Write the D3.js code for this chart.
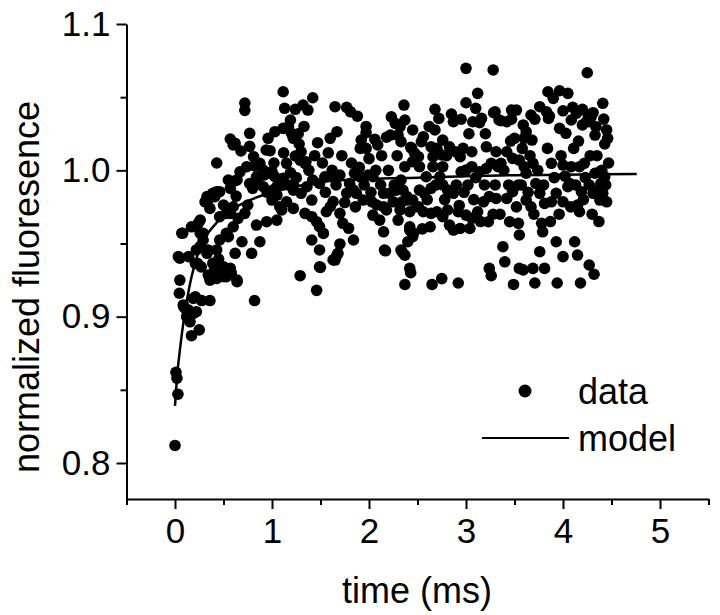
<!DOCTYPE html>
<meta charset="utf-8">
<html>
    <head>
        <style>
            body { margin: 0; background: white; }
            text { font-family: "Liberation Sans", Arial, sans-serif; fill: black; }
        </style>
        <script src="https://d3js.org/d3.v7.min.js"></script>
    </head>
    <body>
        <script>

            // Data: [time (ms), normalized fluorescence]
            var dataPoints = [
                [0.00,0.812],[0.01,0.862],[0.02,0.858],[0.03,0.847],
                [0.045,0.916],[0.05,0.925],[0.05,0.940],[0.035,0.941],[0.07,0.957],[0.08,0.957],[0.09,0.907],[0.085,0.908],
                [0.10,0.906],[0.12,0.9045],[0.12,0.900],[0.14,0.9045],[0.155,0.8965],[0.17,0.887],[0.19,0.9023],[0.19,0.9125],
                [0.21,0.9136],[0.22,0.9034],[0.25,0.891],[0.275,0.911],[0.36,0.911],
                [0.14,0.941],[0.17,0.9614],[0.21,0.9364],[0.22,0.9456],[0.23,0.9364],[0.24,0.9638],[0.26,0.966],[0.26,0.948],
                [0.26,0.957],[0.27,0.934],[0.29,0.957],[0.29,0.9524],[0.31,0.9785],[0.33,0.982],[0.33,0.9433],[0.34,0.9456],
                [0.34,0.9797],[0.343,0.9284],[0.36,0.925],[0.36,0.974],[0.39,0.9843],[0.39,0.9364],[0.41,0.933],[0.41,0.982],
                [0.43,1.005],[0.43,0.9854],[0.43,0.9262],[0.43,0.9456],[0.43,0.934],[0.45,0.9394],[0.46,0.9524],[0.46,0.9854],
                [0.46,0.9683],[0.46,0.9296],[0.50,0.9763],[0.50,0.9341],[0.50,0.9291],[0.50,0.9273],
                [0.53,0.9273],[0.53,0.957],[0.53,0.9706],[0.55,0.9547],[0.55,0.9934],[0.57,0.933],[0.57,0.9877],[0.57,0.9706],
                [0.57,1.0214],[0.57,0.9318],[0.58,0.930],[0.60,1.0173],[0.60,0.9751],[0.60,0.9614],[0.62,0.9929],[0.62,1.0184],
                [0.62,0.9433],[0.63,0.9824],[0.64,0.9239],[0.64,0.9934],[0.64,0.925],[0.65,0.9672],[0.67,0.999],[0.68,1.0132],
                [0.69,0.9512],[0.72,0.9706],[0.72,1.046],[0.72,1.041],[0.74,1.0025],[0.75,0.9763],[0.77,1.0164],[0.77,1.0253],
                [0.77,0.991],[0.79,0.9433],[0.80,0.9877],[0.81,1.0093],[0.82,1.003],[0.82,0.911],[0.84,0.9626],[0.84,0.9956],
                [0.86,0.991],[0.875,0.9512],[0.875,1.0048],
                [0.91,0.9888],[0.91,1.0002],[0.92,0.9968],[0.94,1.0139],[0.945,0.9649],[0.96,1.0219],[0.96,0.998],[0.98,1.0134],
                [1.00,0.9991],[1.00,0.9797],[1.01,0.9865],[1.03,1.0264],[1.03,0.9956],[1.05,0.966],[1.05,0.9888],[1.05,0.983],
                [1.08,0.991],[1.08,0.9751],[1.10,0.9729],[1.115,1.0537],[1.115,1.0287],[1.115,0.9945],[1.13,1.0424],[1.15,1.0048],
                [1.15,0.9785],[1.17,1.0298],[1.17,0.99],[1.19,1.0344],[1.19,0.9984],[1.20,1.0253],[1.22,1.0219],[1.22,0.99],
                [1.22,0.974],[1.22,0.9865],[1.24,1.0417],[1.24,1.0098],[1.28,1.018],[1.29,1.007],[1.29,0.928],[1.30,1.0127],
                [1.30,0.9843],[1.32,1.0446],[1.34,1.0048],[1.34,0.9706],[1.35,1.0059],[1.36,0.9888],[1.37,1.0412],[1.41,0.9683],
                [1.41,0.9524],[1.41,0.9797],[1.42,1.0496],[1.42,0.9934],[1.46,0.9649],[1.46,0.918],[1.47,1.0189],[1.49,0.9615],
                [1.49,0.9456],[1.49,0.934],[1.49,0.991],[1.50,0.9337],[1.53,0.9569],[1.545,0.9956],[1.56,0.9717],
                [1.60,1.0219],[1.60,0.9751],[1.63,0.9786],[1.63,0.9388],[1.63,0.9956],[1.65,1.0435],[1.65,0.9387],[1.67,1.0264],
                [1.67,0.9421],[1.68,0.9433],[1.70,0.9706],[1.70,0.9497],[1.70,0.9968],[1.73,0.9638],[1.77,1.043],[1.77,0.9843],
                [1.79,0.9604],[1.80,0.991],[1.81,1.040],[1.84,0.9524],[1.84,0.9865],[1.85,0.998],[1.87,0.9843],[1.88,1.037],
                [1.905,0.9956],[1.91,1.015],[1.92,1.0207],[1.94,0.9797],[1.97,1.030],[1.97,1.0257],[1.97,1.015],[1.99,0.9968],
                [2.03,0.9785],[2.04,0.9956],[2.04,0.9694],[2.06,1.0212],[2.08,0.9763],[2.09,1.0173],[2.11,0.966],[2.15,0.9843],
                [2.15,0.9751],[2.15,0.958],[2.16,0.9455],[2.17,0.945],[2.18,1.0226],[2.18,0.9729],[2.21,0.9843],[2.22,1.0241],
                [2.23,1.0366],[2.25,0.9785],[2.27,1.0321],[2.28,0.9865],[2.30,1.0241],[2.30,0.966],[2.32,0.9729],[2.32,1.0298],
                [2.33,1.0196],[2.33,0.9455],[2.33,0.9934],[2.34,0.9785],[2.35,0.9865],[2.35,0.9435],[2.36,1.0446],
                [2.37,0.942],[2.37,0.922],[2.37,1.0025],[2.37,1.0344],[2.39,0.982],[2.40,0.9512],[2.40,0.9797],
                [2.42,0.9717],[2.42,0.9592],[2.42,0.9614],[2.42,0.933],[2.43,1.0157],[2.43,0.930],[2.44,1.015],[2.45,0.9797],
                [2.45,0.9546],[2.45,1.0059],[2.46,0.957],[2.45,1.0276],[2.47,1.0116],[2.49,0.9751],[2.51,1.0093],[2.51,0.9751],
                [2.52,1.0025],[2.52,0.9865],[2.54,1.0196],[2.56,1.023],[2.56,0.9717],[2.57,0.9843],[2.59,0.9956],[2.63,0.9614],
                [2.64,1.0161],[2.64,0.9877],[2.64,0.9706],[2.65,0.922],[2.66,1.0025],[2.66,1.0093],[2.68,1.0417],[2.68,1.0276],
                [2.70,1.015],[2.70,0.9717],[2.72,1.0355],[2.73,0.9956],[2.75,1.0105],[2.75,0.926],[2.76,1.0207],[2.76,1.0025],
                [2.76,0.99],[2.76,0.9683],[2.81,0.9865],[2.81,0.9729],[2.83,1.0161],[2.83,0.9626],[2.85,1.0385],[2.87,1.0332],
                [2.87,0.9843],[2.87,0.9592],[2.89,1.0127],[2.92,0.9717],[2.92,0.923],[2.94,1.0093],[2.94,0.9603],[2.95,1.0349],
                [2.95,0.999],[2.97,1.015],[3.00,1.0697],[3.00,1.0462],[3.00,1.0002],[3.00,0.9694],[3.04,0.9603],[3.06,1.0025],
                [3.06,1.0127],[3.06,0.9672],[3.07,1.0332],[3.10,1.0424],[3.12,1.0526],[3.12,0.9717],[3.14,1.0326],[3.14,0.999],
                [3.16,1.0355],[3.18,0.9785],[3.21,1.0013],[3.21,1.0161],[3.23,0.9649],[3.24,0.982],[3.24,0.933],[3.26,1.0048],
                [3.26,0.928],[3.28,1.0686],[3.285,1.0394],[3.30,1.040],[3.31,0.9808],[3.31,1.0127],[3.33,1.0025],[3.34,1.0344],
                [3.36,1.0339],[3.36,1.0048],[3.38,0.9478],[3.40,0.9375],[3.42,1.0332],[3.42,0.9808],[3.42,1.0127],[3.45,0.9649],
                [3.47,1.0412],[3.47,1.0349],[3.48,1.0082],[3.48,0.9854],[3.49,0.922],[3.50,1.0219],[3.52,1.0412],[3.54,0.99],
                [3.54,0.9638],[3.55,1.007],[3.55,0.9558],[3.55,0.933],[3.59,1.031],[3.59,0.932],[3.60,1.0219],[3.60,1.0025],
                [3.62,1.0264],[3.62,0.998],[3.62,0.9797],[3.67,1.0378],[3.67,0.9751],[3.68,1.0207],[3.69,1.0048],[3.69,0.933],
                [3.71,1.0349],[3.71,0.923],[3.72,0.991],[3.76,1.0435],[3.76,0.9843],[3.76,0.9444],[3.78,0.9638],[3.79,0.958],
                [3.81,0.9774],[3.81,0.933],[3.83,1.040],[3.845,1.0537],[3.85,1.0355],[3.86,1.0371],[3.88,1.0048],[3.88,0.9785],
                [3.90,1.0492],[3.93,0.9843],[3.93,0.9512],[3.94,0.923],[3.965,1.0544],[3.965,1.0287],[4.00,1.0407],[4.00,1.0036],
                [4.00,0.9785],[4.00,0.941],[4.03,1.0253],[4.05,1.0526],[4.05,0.9888],[4.07,0.991],[4.085,1.0344],[4.085,1.0025],
                [4.10,1.043],[4.12,0.9512],[4.14,1.039],[4.15,0.9763],[4.15,0.9421],[4.17,1.0025],[4.17,0.9717],[4.18,0.923],
                [4.19,0.9854],[4.20,1.0417],[4.20,1.031],[4.22,1.0048],[4.24,1.0332],[4.25,1.0667],[4.26,1.0378],[4.27,1.0332],
                [4.27,0.99],[4.27,0.9353],[4.29,1.0366],[4.31,1.0394],[4.31,0.9843],[4.32,0.929],[4.33,1.0241],[4.33,0.998],
                [4.34,1.0298],[4.36,0.9865],[4.38,0.999],[4.38,0.9797],[4.39,0.991],[4.41,1.0458],[4.41,0.9843],[4.43,1.018],
                [4.43,0.9956],[4.45,1.0276],[4.45,0.9785],[4.46,1.0219],
                // denser middle band
                [0.95,0.985],[1.02,1.005],[1.12,1.012],[1.25,0.995],[1.27,1.025],[1.33,1.03],[1.38,1.0],[1.44,1.01],
                [1.52,1.005],[1.55,0.985],[1.58,1.012],[1.62,1.0],[1.66,0.99],[1.72,1.01],[1.75,0.978],[1.82,1.005],
                [1.86,0.975],[1.90,1.002],[1.95,0.99],[2.00,1.008],[2.02,0.985],[2.07,1.0],[2.12,0.99],[2.13,1.01],
                [2.20,1.0],[2.26,0.99],[2.29,1.01],[2.55,0.96],[2.60,0.98],[2.62,1.03],[2.69,0.99],[2.78,0.98],
                [2.80,1.01],[2.90,0.99],[2.93,0.976],[2.98,0.985],[3.02,0.99],[3.03,1.025],[3.08,0.98],[3.10,0.995],
                [3.15,0.965],[3.19,0.99],[3.20,1.025],[3.28,0.97],[3.30,0.99],[3.35,0.97],[3.39,1.0],[3.44,0.99],
                [3.46,1.02],[3.52,0.975],[3.57,0.99],[3.58,1.015],[3.64,0.985],[3.66,1.01],[3.70,0.97],[3.74,1.0],
                [3.80,0.99],[3.84,1.015],[3.87,0.965],[3.91,0.995],[3.96,0.97],[3.98,1.01],[4.02,0.996],[4.08,0.975],
                [4.11,1.015],[4.13,0.99],[4.16,1.02],[4.21,0.98],[4.23,0.995],[4.28,1.01],[4.30,0.97],[4.35,1.01],
                [4.37,0.965],[4.40,1.0],[4.42,1.035],[4.44,0.99],[4.47,1.005]
            ];

            // Model curve
            var modelTime = [0, 0.02, 0.05, 0.1, 0.15, 0.2, 0.3, 0.4, 0.5, 0.75, 1.0, 1.25, 1.5, 2.0, 2.5, 3.0, 3.5, 4.0, 4.76];
            var modelValue = [0.839, 0.858, 0.877, 0.902, 0.921, 0.935, 0.953, 0.962, 0.969, 0.979, 0.985, 0.989, 0.992, 0.994, 0.995, 0.996, 0.9967, 0.997, 0.9975];

            // Ticks
            var xMajorTicks = [0, 1, 2, 3, 4, 5];
            var xMinorTicks = [-0.5, 0.5, 1.5, 2.5, 3.5, 4.5, 5.5];
            var yMajorTicks = [0.8, 0.9, 1.0, 1.1];
            var yMinorTicks = [0.85, 0.95, 1.05];

            var legendItems = ["data", "model"];

            var width = 720, height = 615;

            var svg = d3.select("body")
                .append("svg")
                .attr("width", width)
                .attr("height", height);

            var x = d3.scaleLinear()
                .domain([-0.5, 5.5])
                .range([126.5, 708.5]);

            var y = d3.scaleLinear()
                .domain([0.7754, 1.1])
                .range([499, 24]);

            // Points first, then model line on top
            svg.append("g")
                .selectAll("circle")
                .data(dataPoints)
                .enter().append("circle")
                .attr("cx", function(d) { return x(d[0]); })
                .attr("cy", function(d) { return y(d[1]); })
                .attr("r", 5.8)
                .attr("fill", "black");

            var line = d3.line()
                .x(function(d, i) { return x(modelTime[i]); })
                .y(function(d) { return y(d); })
                .curve(d3.curveMonotoneX);

            svg.append("path")
                .datum(modelValue)
                .attr("fill", "none")
                .attr("stroke", "black")
                .attr("stroke-width", 2.5)
                .attr("d", line);

            // X axis: minor ticks, then major ticks with labels
            var xAxisG = svg.append("g").attr("transform", "translate(0,499)");
            xAxisG.append("g")
                .call(d3.axisBottom(x).tickValues(xMinorTicks).tickSize(6).tickFormat(""))
                .call(function(g) { g.select(".domain").remove(); });
            xAxisG.append("g")
                .call(d3.axisBottom(x).tickValues(xMajorTicks).tickSize(10).tickSizeOuter(0).tickPadding(9).tickFormat(d3.format("d")))
                .attr("font-size", 35)
                .attr("font-family", null);

            // Y axis
            var yAxisG = svg.append("g").attr("transform", "translate(126.5,0)");
            yAxisG.append("g")
                .call(d3.axisLeft(y).tickValues(yMinorTicks).tickSize(6).tickFormat(""))
                .call(function(g) { g.select(".domain").remove(); });
            yAxisG.append("g")
                .call(d3.axisLeft(y).tickValues(yMajorTicks).tickSize(10).tickSizeOuter(0).tickPadding(6).tickFormat(d3.format(".1f")))
                .attr("font-size", 35)
                .attr("font-family", null);

            svg.selectAll(".domain, .tick line")
                .attr("stroke", "black")
                .attr("stroke-width", 2);

            // Axis titles
            svg.append("text")
                .attr("x", 417)
                .attr("y", 603)
                .attr("text-anchor", "middle")
                .attr("font-size", 36)
                .text("time (ms)");

            svg.append("text")
                .attr("transform", "translate(39,287) rotate(-90)")
                .attr("text-anchor", "middle")
                .attr("font-size", 36)
                .text("normalized fluoresence");

            // Legend
            var legend = svg.append("g");
            legend.append("circle")
                .attr("cx", 525)
                .attr("cy", 391)
                .attr("r", 6.5)
                .attr("fill", "black");
            legend.append("line")
                .attr("x1", 482).attr("x2", 569)
                .attr("y1", 438).attr("y2", 438)
                .attr("stroke", "black")
                .attr("stroke-width", 2);
            legend.selectAll("text.item")
                .data(legendItems)
                .enter().append("text")
                .attr("class", "item")
                .attr("x", 578)
                .attr("y", function(d, i) { return 404 + i * 47; })
                .attr("font-size", 36)
                .text(function(d) { return d; });

        </script>
    </body>
</html>
